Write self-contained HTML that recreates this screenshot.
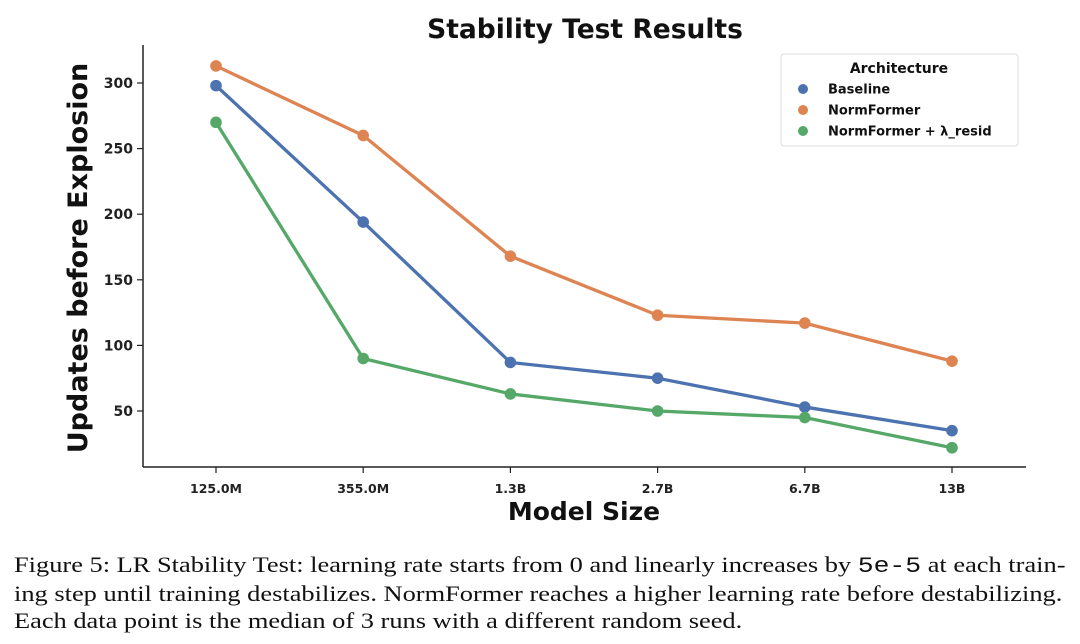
<!DOCTYPE html>
<html><head><meta charset="utf-8"><style>
body{margin:0;background:#fff;width:1080px;height:644px;overflow:hidden}
svg text{font-family:"DejaVu Sans","Liberation Sans",sans-serif}
.cap{position:absolute;left:14px;top:551px;font-family:"Liberation Serif",serif;font-size:22px;line-height:27px;color:#111;width:880px;white-space:nowrap;transform:scaleX(1.2);transform-origin:0 0}
.mono{font-family:"Liberation Mono",monospace}
</style></head><body>
<svg id="chart" width="1080" height="545" style="position:absolute;left:0;top:0"></svg>
<div class="cap">Figure 5: LR Stability Test: learning rate starts from 0 and linearly increases by <span class="mono">5e-5</span> at each train-<br>ing step until training destabilizes. NormFormer reaches a higher learning rate before destabilizing.<br>Each data point is the median of 3 runs with a different random seed.</div>
<script>
const categories=["125.0M","355.0M","1.3B","2.7B","6.7B","13B"];
const baseline=[298,194,87,75,53,35];
const normformer=[313,260,168,123,117,88];
const normformerResid=[270,90,63,50,45,22];
const yTicks=[50,100,150,200,250,300];
const seriesNames=["Baseline","NormFormer","NormFormer + λ_resid"];
const colors=["#4c72b0","#dd8452","#55a868"];
const NS="http://www.w3.org/2000/svg";
const svg=document.getElementById('chart');
function el(t,a,txt){const e=document.createElementNS(NS,t);for(const k in a)e.setAttribute(k,a[k]);if(txt!==undefined)e.textContent=txt;svg.appendChild(e);return e;}
const x=i=>216+i*147.2;
const y=v=>476.6-v*1.312;
let e=el('line',{x1:143,y1:45,x2:143,y2:467,stroke:'#222','stroke-width':1.5});

e=el('line',{x1:143,y1:467,x2:1026,y2:467,stroke:'#222','stroke-width':1.5});

yTicks.forEach(v=>{
 e=el('line',{x1:137,y1:y(v),x2:143,y2:y(v),stroke:'#222','stroke-width':1.2});
 
 e=el('text',{x:133,y:y(v)+5,'text-anchor':'end','font-size':14,'font-weight':'bold',fill:'#222'},v);
 
});
categories.forEach((c,i)=>{
 e=el('line',{x1:x(i),y1:467,x2:x(i),y2:473,stroke:'#222','stroke-width':1.2});
 
 e=el('text',{x:x(i),y:493,'text-anchor':'middle','font-size':12.5,'font-weight':'bold',fill:'#222'},c);
 
});
[baseline,normformer,normformerResid].forEach((s,k)=>{
 e=el('polyline',{points:s.map((v,i)=>x(i)+','+y(v)).join(' '),fill:'none',stroke:colors[k],'stroke-width':3.3});
 
 s.forEach((v,i)=>{
  e=el('circle',{cx:x(i),cy:y(v),r:5.8,fill:colors[k]});
  
 });
});
e=el('text',{x:585,y:38,'text-anchor':'middle','font-size':26.5,'font-weight':'bold',fill:'#111'},'Stability Test Results');

e=el('text',{x:584,y:520,'text-anchor':'middle','font-size':25,'font-weight':'bold',fill:'#111'},'Model Size');

e=el('text',{x:0,y:0,'text-anchor':'middle','font-size':27,'font-weight':'bold',fill:'#111',transform:'translate(87,258) rotate(-90)'},'Updates before Explosion');

e=el('rect',{x:781,y:54,width:237,height:92,rx:3,fill:'#fff',stroke:'#ddd'});

e=el('text',{x:899,y:73,'text-anchor':'middle','font-size':14,'font-weight':'bold',fill:'#111'},'Architecture');

seriesNames.forEach((n,k)=>{
 const yy=89+k*21;
 e=el('circle',{cx:803,cy:yy,r:5,fill:colors[k]});
 
 e=el('text',{x:828,y:yy+4.5,'font-size':13,'font-weight':'bold',fill:'#111'},n);
 
});
</script>
</body></html>
